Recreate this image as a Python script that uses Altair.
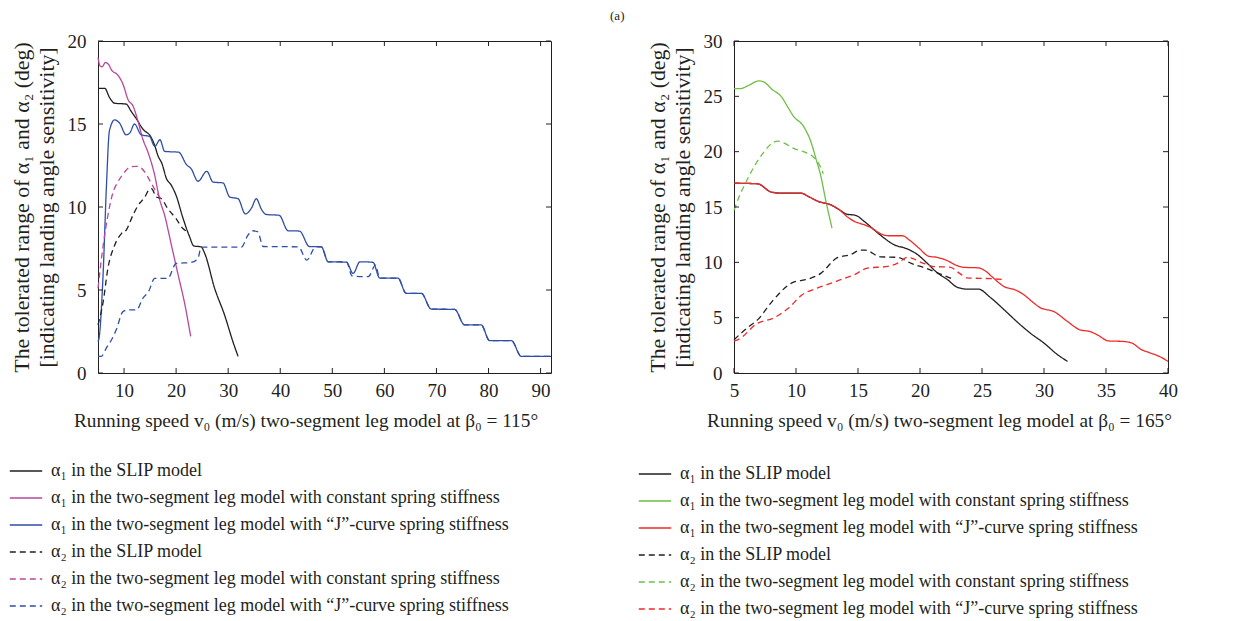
import altair as alt
import pandas as pd

# ---------------- legend labels ----------------
LABELS = [
    "α₁ in the SLIP model",
    "α₁ in the two-segment leg model with constant spring stiffness",
    "α₁ in the two-segment leg model with “J”-curve spring stiffness",
    "α₂ in the SLIP model",
    "α₂ in the two-segment leg model with constant spring stiffness",
    "α₂ in the two-segment leg model with “J”-curve spring stiffness",
]

# ---------------- left panel (beta0 = 115 deg) ----------------
L_slip_a1_x = [5, 6.3, 7.2, 8.2, 10.4, 11.4, 12.4, 13.6, 15.2, 15.9, 16.5, 17.3, 18.1, 19.1, 20.0, 21.3, 22.6, 23.4, 24.8, 25.5, 27.4, 29.3, 30.9, 31.9]
L_slip_a1_y = [17.15, 17.15, 16.6, 16.25, 16.2, 15.75, 15.3, 14.7, 14.2, 13.7, 13.1, 12.6, 11.75, 11.3, 10.7, 9.35, 8.2, 7.65, 7.6, 7.2, 5.1, 3.5, 1.9, 1.0]

L_const_a1_x = [5.0, 5.4, 5.8, 6.4, 7.0, 7.6, 8.8, 9.8, 10.8, 11.7, 12.7, 13.6, 14.6, 15.9, 16.8, 17.8, 19.1, 20.4, 21.7, 22.8]
L_const_a1_y = [19.0, 18.5, 18.45, 18.7, 18.6, 18.25, 17.95, 17.4, 16.45, 16.1, 15.15, 14.1, 13.3, 11.9, 10.5, 9.5, 7.7, 5.9, 4.1, 2.2]

L_j_a1_x = [5.0, 5.2, 6.0, 6.6, 7.2, 8.2, 9.15, 10.4, 11.1, 12.0, 13.3, 14.9, 15.9, 16.9, 17.8, 20.5, 22.0, 22.9, 24.2, 25.9, 27.1, 29.0, 30.3, 31.9, 33.3, 34.5, 35.4, 36.4, 37.3, 39.8, 41.5, 43.7, 45.6, 47.9, 49.2, 52.7, 54.0, 55.3, 57.8, 59.1, 62.6, 64.2, 67.1, 69.0, 73.5, 75.4, 78.6, 80.2, 84.4, 86.3, 92]
L_j_a1_y = [1.9, 2.1, 6.1, 11.1, 14.6, 15.25, 15.05, 14.35, 14.45, 15.0, 14.35, 14.25, 13.65, 14.05, 13.35, 13.3, 12.55, 12.3, 11.55, 12.15, 11.5, 11.45, 10.6, 10.5, 9.58, 9.95, 10.5, 9.85, 9.55, 9.5, 8.57, 8.55, 7.62, 7.6, 6.7, 6.68, 6.0, 6.7, 6.67, 5.72, 5.72, 4.8, 4.8, 3.85, 3.83, 2.9, 2.9, 1.95, 1.95, 1.0, 1.0]

L_slip_a2_x = [5.0, 6.0, 6.9, 8.2, 9.5, 10.4, 11.7, 12.7, 14.0, 14.7, 15.3, 16.2, 17.2, 18.4, 20.0, 21.3, 22.3]
L_slip_a2_y = [2.9, 4.3, 6.3, 7.7, 8.4, 8.6, 9.5, 10.1, 10.6, 11.0, 11.1, 10.6, 10.5, 9.9, 9.3, 8.7, 8.5]

L_const_a2_x = [5.0, 6.0, 6.9, 7.9, 8.8, 10.1, 11.1, 12.4, 13.3, 14.3, 15.2, 16.5, 17.5]
L_const_a2_y = [5.1, 7.7, 9.5, 10.9, 11.5, 12.1, 12.4, 12.45, 12.35, 11.95, 11.45, 10.75, 10.35]

L_j_a2_x = [5.0, 5.6, 6.6, 7.6, 8.5, 9.8, 10.8, 12.4, 13.6, 14.7, 15.9, 18.4, 20.0, 22.9, 24.2, 24.8, 32.5, 33.8, 34.7, 35.7, 36.7, 43.5, 45.1, 46.8, 47.9, 49.2, 52.7, 53.8, 56.9, 58.3, 59.1, 62.6, 64.2, 67.1, 69.0, 73.5, 75.4, 78.6, 80.2, 84.4, 86.3, 92]
L_j_a2_y = [1.0, 1.0, 1.5, 2.0, 2.6, 3.7, 3.8, 3.8, 4.5, 4.9, 5.7, 5.7, 6.6, 6.66, 6.9, 7.58, 7.58, 8.3, 8.57, 8.5, 7.62, 7.6, 6.8, 7.6, 7.6, 6.7, 6.7, 5.85, 5.8, 6.5, 5.72, 5.72, 4.8, 4.8, 3.85, 3.83, 2.9, 2.9, 1.95, 1.95, 1.0, 1.0]

L_xtick_labels = [10, 20, 30, 40, 50, 60, 70, 80, 90]
L_yticks = [0, 5, 10, 15, 20]

# ---------------- right panel (beta0 = 165 deg) ----------------
R_slip_a1_x = [5.0, 6.9, 8.0, 8.8, 10.4, 11.0, 11.8, 12.8, 13.5, 14.1, 14.8, 15.5, 16.6, 17.9, 19.0, 19.8, 20.6, 21.4, 22.2, 23.0, 23.8, 24.7, 25.7, 26.8, 27.8, 28.9, 30.0, 31.1, 31.9]
R_slip_a1_y = [17.15, 17.1, 16.35, 16.25, 16.25, 15.95, 15.5, 15.2, 14.75, 14.35, 14.25, 13.7, 12.65, 11.6, 11.2, 10.7, 9.9, 9.05, 8.45, 7.75, 7.58, 7.58, 6.8, 5.7, 4.65, 3.6, 2.7, 1.65, 1.05]

R_const_a1_x = [5.0, 5.5, 6.2, 7.0, 7.4, 8.1, 8.8, 9.3, 9.8, 10.6, 11.2, 11.6, 12.0, 12.4, 12.9]
R_const_a1_y = [25.7, 25.7, 26.0, 26.4, 26.3, 25.6, 25.0, 24.1, 23.2, 22.3, 20.9, 19.4, 17.8, 15.6, 13.1]

R_j_a1_x = [5.0, 6.9, 8.0, 8.8, 10.4, 11.0, 11.8, 12.8, 13.5, 14.1, 14.7, 15.5, 16.1, 16.8, 17.5, 18.6, 19.1, 19.9, 20.7, 21.4, 22.1, 23.0, 23.5, 24.7, 25.3, 25.9, 26.8, 27.7, 28.4, 29.2, 29.7, 30.8, 31.9, 32.9, 33.7, 34.3, 35.2, 36.4, 37.1, 37.8, 38.6, 39.3, 40.0]
R_j_a1_y = [17.15, 17.1, 16.35, 16.25, 16.25, 15.95, 15.5, 15.2, 14.75, 14.15, 13.7, 13.4, 13.1, 12.6, 12.4, 12.4, 12.05, 11.3, 10.55, 10.45, 10.2, 9.7, 9.55, 9.5, 9.2, 8.6, 7.8, 7.5, 7.05, 6.3, 5.9, 5.55, 4.65, 3.9, 3.75, 3.45, 2.9, 2.85, 2.7, 2.15, 1.8, 1.5, 1.05]

R_slip_a2_x = [5.0, 6.2, 6.9, 8.1, 9.6, 11.2, 12.0, 13.3, 14.4, 15.2, 15.6, 16.8, 18.2, 19.3, 20.4, 21.4, 22.6]
R_slip_a2_y = [3.0, 4.2, 4.8, 6.5, 8.1, 8.57, 9.0, 10.4, 10.7, 11.1, 11.1, 10.5, 10.45, 9.9, 9.5, 9.05, 8.5]

R_const_a2_x = [5.0, 5.4, 5.9, 6.6, 7.3, 8.0, 8.5, 9.0, 9.8, 10.6, 11.3, 11.8, 12.2]
R_const_a2_y = [14.7, 15.9, 17.1, 18.6, 19.8, 20.7, 20.95, 20.8, 20.3, 20.0, 19.6, 19.0, 18.0]

R_j_a2_x = [5.0, 5.3, 6.9, 8.2, 9.4, 10.5, 11.7, 12.5, 13.6, 14.7, 15.75, 17.4, 18.2, 19.0, 20.3, 21.1, 22.4, 23.2, 23.8, 25.7, 26.8]
R_j_a2_y = [2.9, 3.0, 4.5, 4.97, 5.87, 7.07, 7.67, 7.98, 8.43, 8.88, 9.48, 9.63, 9.93, 10.45, 9.9, 9.62, 9.57, 9.0, 8.6, 8.52, 8.45]

R_xtick_labels = [5, 10, 15, 20, 25, 30, 35, 40]
R_yticks = [0, 5, 10, 15, 20, 25, 30]

# ---------------- styles ----------------
FONT = "Liberation Serif"
TXT = "#231f20"
L_COLORS = ["#231f20", "#b8479e", "#2f4ea8", "#231f20", "#b8479e", "#2f4ea8"]
R_COLORS = ["#231f20", "#6dbf45", "#ee2a2a", "#231f20", "#6dbf45", "#ee2a2a"]
DASHES = [[1, 0], [1, 0], [1, 0], [6, 4], [6, 4], [6, 4]]
Y_TITLE = ["The tolerated range of α₁ and α₂ (deg)", "[indicating landing angle sensitivity]"]


def long_df(pairs):
    rows = []
    for lab, xs, ys in pairs:
        for i, (a, b) in enumerate(zip(xs, ys)):
            rows.append({"s": lab, "x": a, "y": b, "o": i})
    return pd.DataFrame(rows)


def panel(df, xdom, ydom, xlabels, yticks, xtitle, colors, W, H, legx, legy, tdx):
    leg = alt.Legend(
        title=None, orient="none", legendX=legx, legendY=legy,
        symbolType="stroke", symbolSize=1050, symbolStrokeWidth=1.3,
        labelFontSize=18, labelFont=FONT, labelColor=TXT, labelLimit=800,
        rowPadding=1, labelOffset=8,
    )
    xs = alt.Scale(domain=xdom, nice=False, zero=False)
    ys = alt.Scale(domain=ydom, nice=False, zero=False)
    ax_x = alt.Axis(values=xlabels, title=xtitle, ticks=False, domain=False, grid=False,
                    labelPadding=8, titlePadding=11, format="d", labelFlush=False,
                    titleX=W / 2 + tdx,
                    labelFont=FONT, titleFont=FONT, labelFontSize=19, titleFontSize=19.3,
                    labelColor=TXT, titleColor=TXT, titleFontWeight="normal")
    ax_y = alt.Axis(values=yticks, title=Y_TITLE, ticks=False, domain=False, grid=False,
                    labelPadding=12, titlePadding=9, format="d", titleLineHeight=25,
                    labelFont=FONT, titleFont=FONT, labelFontSize=19, titleFontSize=21.8,
                    labelColor=TXT, titleColor=TXT, titleFontWeight="normal")
    xenc = alt.X("x:Q", scale=xs, axis=ax_x)
    yenc = alt.Y("y:Q", scale=ys, axis=ax_y)
    lines = alt.Chart(df).mark_line(strokeWidth=1.3, interpolate="monotone").encode(
        x=xenc, y=yenc,
        color=alt.Color("s:N", scale=alt.Scale(domain=LABELS, range=colors), legend=leg),
        strokeDash=alt.StrokeDash("s:N", scale=alt.Scale(domain=LABELS, range=DASHES), legend=leg),
        order="o:Q",
    )
    xt = alt.Chart(pd.DataFrame({"x": xlabels}))
    yt = alt.Chart(pd.DataFrame({"y": yticks}))
    tick_bottom = xt.mark_rule(color=TXT, strokeWidth=1).encode(
        x=xenc, y=alt.value(H), y2=alt.value(H - 5))
    tick_top = xt.mark_rule(color=TXT, strokeWidth=1).encode(
        x=xenc, y=alt.value(0), y2=alt.value(5))
    tick_left = yt.mark_rule(color=TXT, strokeWidth=1).encode(
        y=yenc, x=alt.value(0), x2=alt.value(5))
    tick_right = yt.mark_rule(color=TXT, strokeWidth=1).encode(
        y=yenc, x=alt.value(W), x2=alt.value(W - 5))
    return alt.layer(lines, tick_bottom, tick_top, tick_left, tick_right).properties(width=W, height=H)


df_left = long_df([
    (LABELS[0], L_slip_a1_x, L_slip_a1_y),
    (LABELS[1], L_const_a1_x, L_const_a1_y),
    (LABELS[2], L_j_a1_x, L_j_a1_y),
    (LABELS[3], L_slip_a2_x, L_slip_a2_y),
    (LABELS[4], L_const_a2_x, L_const_a2_y),
    (LABELS[5], L_j_a2_x, L_j_a2_y),
])
df_right = long_df([
    (LABELS[0], R_slip_a1_x, R_slip_a1_y),
    (LABELS[1], R_const_a1_x, R_const_a1_y),
    (LABELS[2], R_j_a1_x, R_j_a1_y),
    (LABELS[3], R_slip_a2_x, R_slip_a2_y),
    (LABELS[4], R_const_a2_x, R_const_a2_y),
    (LABELS[5], R_j_a2_x, R_j_a2_y),
])

left = panel(df_left, [5, 92], [0, 20], L_xtick_labels, L_yticks,
             "Running speed v₀ (m/s) two-segment leg model at β₀ = 115°",
             L_COLORS, 453, 332, -89, 413, -19)
right = panel(df_right, [5, 40], [0, 30], R_xtick_labels, R_yticks,
              "Running speed v₀ (m/s) two-segment leg model at β₀ = 165°",
              R_COLORS, 434, 332, -96, 416, -12)

chart = alt.hconcat(left, right, spacing=82).resolve_scale(
    color="independent", strokeDash="independent", x="independent", y="independent"
).resolve_legend(color="independent", strokeDash="independent").properties(
    title=alt.TitleParams("(a)", fontSize=13, fontWeight="normal", font=FONT, color=TXT,
                          anchor="middle", offset=9, dx=24),
    padding={"left": 0, "top": 1, "right": 5, "bottom": 0},
    background="white",
).configure_view(stroke=TXT, strokeWidth=1)

chart.save("out.html", embed_options={"renderer": "svg", "actions": False})
